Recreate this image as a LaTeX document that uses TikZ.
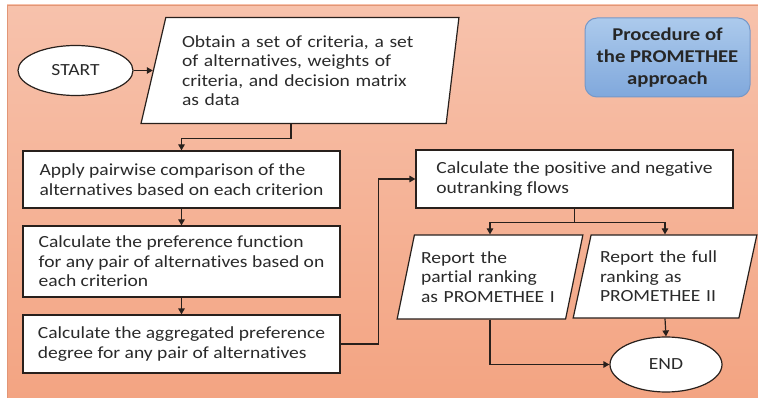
\documentclass[tikz,border=0pt]{standalone}
\usepackage{fontspec}
\setmainfont{Carlito}[FakeStretch=1.15,Ligatures=NoCommon]
\usetikzlibrary{shapes.geometric,arrows.meta}
\definecolor{bgtop}{RGB}{247,194,172}
\definecolor{bgbot}{RGB}{243,164,130}
\definecolor{bgedge}{RGB}{226,150,118}
\definecolor{edge}{RGB}{40,32,28}
\definecolor{ink}{RGB}{42,42,42}
\definecolor{ttltop}{RGB}{172,202,236}
\definecolor{ttlbot}{RGB}{128,168,220}
\definecolor{ttledge}{RGB}{118,152,200}
\begin{document}
\begin{tikzpicture}[x=1pt,y=1pt,
  box/.style={draw=edge,line width=1.2pt,fill=white,rectangle,align=left,inner sep=0pt},
  io/.style={draw=edge,line width=1.2pt,fill=white,trapezium,trapezium stretches=true,inner sep=0pt},
  term/.style={draw=edge,line width=1.2pt,fill=white,ellipse,inner sep=0pt},
  arr/.style={draw=edge,line width=1.2pt,-{Triangle[length=6pt,width=6.5pt]}}]
\tikzstyle{every node}+=[font=\fontsize{17}{19.5}\selectfont,text=ink]
\useasboundingbox (0,0) rectangle (758,-398);
\fill [white] (0,0) rectangle (758,-398);
\shade [top color=bgtop,bottom color=bgbot] (7,-5) rectangle (758,-398);
\draw [bgedge,line width=1pt] (7.5,-398) -- (7.5,-5.5) -- (758,-5.5);

\node [term,minimum width=115pt,minimum height=50pt] (start) at (75.5,-70.5) {START};
\node [io,text width=248pt,align=left,trapezium left angle=72.7,trapezium right angle=99.1,
  minimum width=318pt,minimum height=106pt] (obtain) at (306,-70.5)
  {Obtain a set of criteria, a set\\of alternatives, weights of\\criteria, and decision matrix\\as data};
\node [rectangle,rounded corners=12pt,draw=ttledge,line width=1pt,top color=ttltop,bottom color=ttlbot,
  minimum width=165pt,minimum height=79pt,align=center,
  font=\fontsize{18}{22}\selectfont\bfseries,text=black!85] (ttl) at (667.5,-57.5)
  {Procedure of\\the PROMETHEE\\approach};

\node [box,minimum width=317pt,minimum height=57pt] (apply) at (181.5,-179.5)
  {Apply pairwise comparison of the\\alternatives based on each criterion};
\node [box,minimum width=317pt,minimum height=71pt] (pref) at (181.5,-261.5)
  {Calculate the preference function\\for any pair of alternatives based on\\each criterion};
\node [box,minimum width=317pt,minimum height=58pt] (aggr) at (181.5,-344)
  {Calculate the aggregated preference\\degree for any pair of alternatives};
\node [box,minimum width=317pt,minimum height=58pt] (flows) at (574.5,-179)
  {Calculate the positive and negative\\outranking flows};

\node [io,text width=138pt,align=left,trapezium left angle=72.8,trapezium right angle=107.2,
  minimum width=186pt,minimum height=84pt] (partial) at (490,-277)
  {Report the\\partial ranking\\as PROMETHEE I};
\node [io,text width=130pt,align=left,trapezium left angle=72.8,trapezium right angle=107.2,
  minimum width=184pt,minimum height=83pt] (full) at (665,-276.5)
  {Report the full\\ranking as\\PROMETHEE II};
\node [term,minimum width=112pt,minimum height=55pt] (endn) at (666,-364.5) {END};

% start to data
\draw [arr] (start.east) -- (obtain.left side);
\draw [arr] ([xshift=-15pt]obtain.south) -- ++(0,-14) -| (apply.north);
% left column
\draw [arr] (apply.south) -- (pref.north);
\draw [arr] (pref.south) -- (aggr.north);
\draw [arr] (aggr.east) -- ++(38,0) |- (flows.west);
% split to the two rankings
\draw [edge,line width=1.2pt] (flows.south) -- ++(0,-14) coordinate (split);
\draw [arr] (split) -| (partial.north -| partial.center);
\draw [arr] (split) -| (full.north -| full.center);
% to end
\draw [arr] (full.south -| full.center) -- (endn.north);
\draw [arr] (partial.south -| partial.center) |- (endn.west);
\end{tikzpicture}
\end{document}
